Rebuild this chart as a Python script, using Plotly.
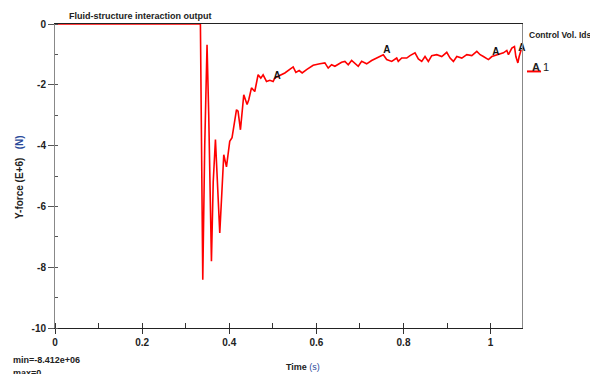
import plotly.graph_objects as go

# ---- data (time in s, Y-force in E+6 N) ----
time_s = [0.0, 0.3338, 0.3392, 0.3437, 0.349, 0.3529, 0.3591, 0.3632, 0.3683, 0.3736,
          0.3782, 0.3828, 0.3874, 0.3936, 0.4011, 0.4064, 0.4115, 0.4166, 0.4202, 0.4257,
          0.4333, 0.4409, 0.4448, 0.451, 0.4586, 0.4662, 0.4724, 0.4777, 0.4855, 0.4931,
          0.5007, 0.5046, 0.5122, 0.52, 0.5276, 0.5467, 0.5529, 0.5605, 0.5674, 0.5775,
          0.5926, 0.608, 0.6195, 0.6271, 0.6349, 0.6425, 0.6579, 0.6655, 0.6731, 0.6809,
          0.6885, 0.6961, 0.7039, 0.7154, 0.7269, 0.7384, 0.7536, 0.7614, 0.7729, 0.7844,
          0.788, 0.7959, 0.8074, 0.8149, 0.8264, 0.834, 0.8418, 0.8494, 0.857, 0.8648,
          0.8763, 0.8878, 0.8993, 0.9069, 0.9145, 0.9223, 0.9338, 0.9453, 0.9568, 0.9683,
          0.9759, 0.9834, 0.9949, 1.0028, 1.0179, 1.0294, 1.0372, 1.0409, 1.0487, 1.0547,
          1.0579, 1.0625, 1.0655, 1.0701]
y_force = [0.0, 0.0, -8.41, -4.0, -0.68, -3.0, -7.8, -5.2, -3.8, -5.6,
           -6.87, -5.6, -4.3, -4.7, -3.86, -3.74, -3.2, -2.82, -2.87, -3.48,
           -2.33, -2.65, -2.49, -2.1, -2.22, -1.67, -1.78, -1.67, -1.89, -1.85,
           -1.89, -1.78, -1.72, -1.67, -1.61, -1.41, -1.59, -1.53, -1.61, -1.5,
           -1.36, -1.31, -1.28, -1.45, -1.34, -1.39, -1.26, -1.23, -1.34, -1.2,
           -1.31, -1.39, -1.23, -1.31, -1.2, -1.12, -1.01, -1.17, -1.23, -1.12,
           -1.23, -1.12, -1.12, -1.04, -0.95, -1.15, -1.23, -1.07, -1.23, -1.04,
           -1.01, -1.07, -0.93, -1.12, -1.23, -1.07, -1.12, -1.01, -1.04, -0.9,
           -1.01, -1.07, -1.17, -1.07, -1.01, -0.95, -0.87, -1.01, -0.79, -0.74,
           -1.07, -1.28, -1.07, -0.85]

# curve identifier labels ("A") placed along the curve
label_t = [0.258, 0.510, 0.762, 1.012, 1.0715]
label_y = [0.08, -1.72, -0.88, -0.93, -0.8]
label_text = ["A", "A", "A", "A", "A"]

x_ticks = [0, 0.2, 0.4, 0.6, 0.8, 1]
y_ticks = [-10, -8, -6, -4, -2, 0]

FONT = "Liberation Sans, Arial, sans-serif"

fig = go.Figure()
fig.add_trace(go.Scatter(x=time_s, y=y_force, mode="lines",
                         line=dict(color="#ff0000", width=1.6),
                         cliponaxis=False, showlegend=False, hoverinfo="skip"))
fig.add_trace(go.Scatter(x=label_t, y=label_y, mode="text", text=label_text,
                         textfont=dict(family=FONT, size=10, color="#111111", weight="bold"),
                         cliponaxis=False, showlegend=False, hoverinfo="skip"))

# page body adds an 8px offset; margins compensate so the plot area lands
# at x 55..522, y 24..328 of the window
fig.update_layout(
    width=598, height=374,
    margin=dict(l=47, r=84, t=16, b=54, autoexpand=False),
    paper_bgcolor="white", plot_bgcolor="white",
    font=dict(family=FONT, size=10, color="#222222"),
    xaxis=dict(range=[0, 1.072], tickvals=x_ticks, ticktext=[str(v) for v in x_ticks],
               showgrid=False, zeroline=False, showline=True, linecolor="#222222",
               linewidth=1, mirror=True, ticks="outside", ticklen=5, tickcolor="#333333",
               tickfont=dict(family=FONT, size=10, color="#222222", weight="bold"),
               automargin=False,
               minor=dict(dtick=0.1, tick0=0, ticks="inside", ticklen=5, tickcolor="#333333")),
    yaxis=dict(range=[-10, 0], tickvals=y_ticks, ticktext=[str(v) for v in y_ticks],
               showgrid=False, zeroline=False, showline=True, linecolor="#888888",
               linewidth=1, mirror=True, ticks="outside", ticklen=6, tickcolor="#555555",
               tickfont=dict(family=FONT, size=10, color="#222222", weight="bold"),
               automargin=False,
               minor=dict(dtick=1, tick0=0, ticks="inside", ticklen=3, tickcolor="#555555")),
)

ann = [
    dict(text="<b>Fluid-structure interaction output</b>", x=0.0247, y=1.027,
         xanchor="left", yanchor="middle", font=dict(size=9)),
    dict(text="<b>Control Vol. Ids</b>", x=1.0114, y=0.9648,
         xanchor="left", yanchor="middle", font=dict(size=8.5)),
    dict(text="<b>A</b> 1", x=1.0178, y=0.8595,
         xanchor="left", yanchor="middle", font=dict(size=11)),
    dict(text="<b>min=-8.412e+06</b>", x=-0.0933, y=-0.104,
         xanchor="left", yanchor="middle", font=dict(size=9)),
    dict(text="<b>max=0</b>", x=-0.0933, y=-0.147,
         xanchor="left", yanchor="middle", font=dict(size=9)),
    dict(text="<b>Time</b> <span style='color:#2a4a9a'>(s)</span>", x=0.531, y=-0.127,
         xanchor="center", yanchor="middle", font=dict(size=9)),
    dict(text="<b>Y-force (E+6)</b>   <span style='color:#2a4a9a'><b>(N)</b></span>",
         x=-0.0761, y=0.498, textangle=-90,
         xanchor="center", yanchor="middle", font=dict(size=10)),
]
for a in ann:
    a.update(xref="paper", yref="paper", showarrow=False)
    fig.add_annotation(**a)

fig.add_shape(type="line", xref="paper", yref="paper", x0=1.0107, x1=1.0408,
              y0=0.844, y1=0.844, line=dict(color="#ff0000", width=2))

fig.write_html("out.html")
